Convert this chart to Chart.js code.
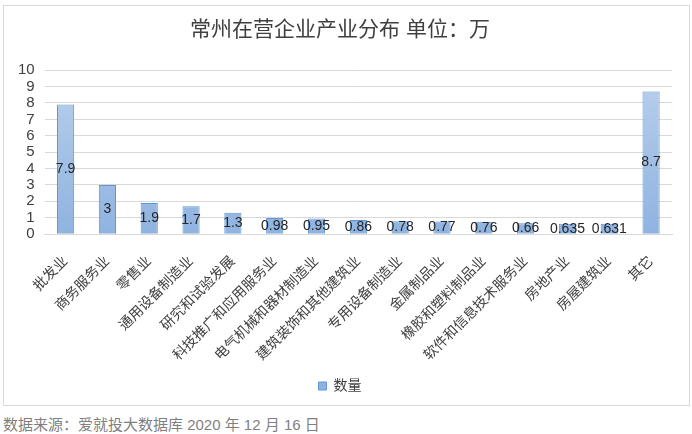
<!DOCTYPE html>
<html>
<head>
<meta charset="utf-8">
<script src="https://cdn.jsdelivr.net/npm/chart.js@4/dist/chart.umd.min.js"></script>
<style>
  body { margin: 0; background: #fff; font-family: "Liberation Sans", "Noto Sans CJK SC", sans-serif; }
  #box { position: absolute; left: 3px; top: 5px; width: 685px; height: 399px; border: 1px solid #d9d9d9; }
  #note { position: absolute; left: 3px; top: 413px; font-size: 15px; color: #7f7f7f; }
</style>
</head>
<body>
<div id="box"><canvas id="chartIndustri"></canvas></div>
<div id="note">数据来源：爱就投大数据库 2020 年 12 月 16 日</div>
<script>
const categories = ['批发业', '商务服务业', '零售业', '通用设备制造业', '研究和试验发展', '科技推广和应用服务业',
    '电气机械和器材制造业', '建筑装饰和其他建筑业', '专用设备制造业', '金属制品业', '橡胶和塑料制品业',
    '软件和信息技术服务业', '房地产业', '房屋建筑业', '其它'];
const jumlah = [7.9, 3, 1.9, 1.7, 1.3, 0.98, 0.95, 0.86, 0.78, 0.77, 0.76, 0.66, 0.635, 0.631, 8.7];
const yTicks = [0, 1, 2, 3, 4, 5, 6, 7, 8, 9, 10];

const fontFamily = '"Liberation Sans", "Noto Sans CJK SC", sans-serif';

// tulis nilai di tengah batang
const labelTengah = {
    id: 'labelTengah',
    afterDatasetsDraw(chart) {
        const ctx = chart.ctx;
        const meta = chart.getDatasetMeta(0);
        ctx.save();
        ctx.font = '14px ' + fontFamily;
        ctx.fillStyle = '#262626';
        ctx.textAlign = 'center';
        ctx.textBaseline = 'middle';
        meta.data.forEach((bar, i) => {
            const y = (bar.y + bar.base) / 2;
            ctx.fillText(String(jumlah[i]), bar.x, y);
        });
        ctx.restore();
    }
};

const ctx = document.getElementById('chartIndustri').getContext('2d');
const chartIndustri = new Chart(ctx, {
    type: 'bar',
    data: {
        labels: categories,
        datasets: [{
            label: '数量',
            data: jumlah,
            backgroundColor: function (context) {
                const area = context.chart.chartArea;
                if (!area) return '#a9c5e8';
                const g = context.chart.ctx.createLinearGradient(0, area.top, 0, area.bottom);
                g.addColorStop(0, '#b9d0ec');
                g.addColorStop(1, '#8fb3e0');
                return g;
            },
            borderColor: '#5f95d3',
            borderWidth: 1,
            barPercentage: 0.41,
            categoryPercentage: 1
        }]
    },
    options: {
        responsive: true,
        maintainAspectRatio: false,
        animation: false,
        layout: { padding: { left: 4, right: 17, top: 0, bottom: 2 } },
        plugins: {
            title: {
                display: true,
                text: '常州在营企业产业分布 单位：万',
                color: '#404040',
                font: { family: fontFamily, size: 21, weight: 'normal' },
                padding: { top: 12, bottom: 27 }
            },
            legend: {
                position: 'bottom',
                labels: {
                    color: '#404040',
                    font: { family: fontFamily, size: 14 },
                    boxWidth: 8,
                    boxHeight: 8,
                    padding: 4
                }
            },
            tooltip: { enabled: false }
        },
        scales: {
            x: {
                grid: { display: false },
                border: { color: '#d9d9d9' },
                ticks: {
                    color: '#404040',
                    font: { family: fontFamily, size: 14 },
                    maxRotation: 45,
                    minRotation: 45,
                    autoSkip: false,
                    padding: 11
                }
            },
            y: {
                min: 0,
                max: 10,
                afterBuildTicks: axis => { axis.ticks = yTicks.map(v => ({ value: v })); },
                grid: { color: '#d9d9d9', drawTicks: false },
                border: { display: false },
                ticks: {
                    color: '#404040',
                    font: { family: fontFamily, size: 15 },
                    autoSkip: false,
                    stepSize: 1,
                    padding: 10
                }
            }
        }
    },
    plugins: [labelTengah]
});
</script>
</body>
</html>
